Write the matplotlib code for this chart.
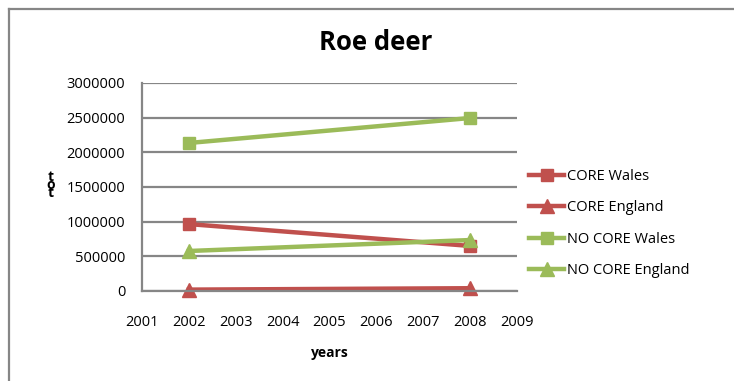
import matplotlib
matplotlib.use("Agg")
import matplotlib.pyplot as plt
from matplotlib.lines import Line2D

# data
years = [2002, 2008]
core_wales = [965000, 650000]
core_england = [20000, 40000]
nocore_wales = [2135000, 2495000]
nocore_england = [577000, 735000]

x_ticks = list(range(2001, 2010))
y_ticks = list(range(0, 3000001, 500000))

red = "#C0504D"
green = "#9BBB59"
grey = "#868686"

plt.rcParams["font.family"] = ["Open Sans", "DejaVu Sans"]

fig = plt.figure(figsize=(7.34, 3.81), dpi=100)
ax = fig.add_axes([142 / 734, 1 - 291 / 381, 375 / 734, 208 / 381])

ax.plot(years, core_wales, color=red, lw=3.2, marker="s", ms=9, label="CORE Wales", clip_on=False)
ax.plot(years, core_england, color=red, lw=3.2, marker="^", ms=10, label="CORE England", clip_on=False)
ax.plot(years, nocore_wales, color=green, lw=3.2, marker="s", ms=9, label="NO CORE Wales", clip_on=False)
ax.plot(years, nocore_england, color=green, lw=3.2, marker="^", ms=10, label="NO CORE England", clip_on=False)

ax.set_xlim(2001, 2009)
ax.set_ylim(0, 3000000)
ax.set_xticks(x_ticks)
ax.set_yticks(y_ticks)
ax.set_yticklabels([str(v) for v in y_ticks])
ax.tick_params(axis="both", length=0, labelsize=10.5, colors="black")
ax.tick_params(axis="y", pad=12)
ax.tick_params(axis="x", pad=17)

ax.grid(axis="y", color=grey, lw=1.6)
ax.set_axisbelow(True)
for side in ["top", "right"]:
    ax.spines[side].set_visible(False)
for side in ["left", "bottom"]:
    ax.spines[side].set_color(grey)
    ax.spines[side].set_linewidth(1.6)

fig.text(376 / 734, 1 - 43 / 381, "Roe deer", ha="center", va="center",
         fontsize=18.5, fontweight="bold")
fig.text(330 / 734, 1 - 353 / 381, "years", ha="center", va="center",
         fontsize=10, fontweight="bold")
fig.text(51 / 734, 1 - 185 / 381, "t\no\nt", ha="center", va="center",
         fontsize=10, fontweight="bold", linespacing=0.45)

ax.legend(loc="center left", bbox_to_anchor=(516 / 734, 1 - 223.5 / 381),
          bbox_transform=fig.transFigure, frameon=False, fontsize=10.5,
          labelspacing=1.12, handlelength=2.4, handletextpad=0.2)

# outer chart border
fig.add_artist(Line2D([8.5 / 734, 8.5 / 734], [0, 1 - 9 / 381],
                      transform=fig.transFigure, color=grey, lw=1.6))
fig.add_artist(Line2D([8.5 / 734, 1], [1 - 9 / 381, 1 - 9 / 381],
                      transform=fig.transFigure, color=grey, lw=1.6))

fig.savefig("out.png", dpi=100)
